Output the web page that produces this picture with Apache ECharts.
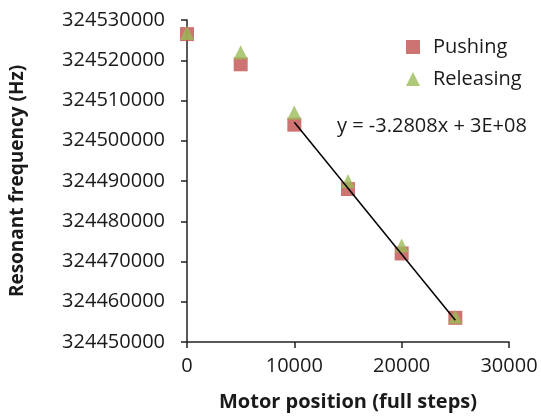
<!doctype html>
<html>
<head>
<meta charset="UTF-8">
<title>Resonant frequency vs motor position</title>
<script src="https://cdn.jsdelivr.net/npm/echarts@6/dist/echarts.min.js"></script>
<style>
  html, body { margin: 0; padding: 0; background: #fff; }
</style>
</head>
<body>
<div id="chart" style="width: 541px; height: 418px;"></div>
<script>
// motor position (full steps)
var positions = [0, 5000, 10000, 15000, 20000, 25000];
// resonant frequency (Hz)
var pushing   = [324526500, 324519000, 324504000, 324488000, 324472000, 324456000];
var releasing = [324526800, 324522000, 324507000, 324490000, 324474000, 324456300];
// linear trendline drawn across the last four points
var trendX = [10000, 25000];
var trendY = [324504600, 324455400];
var trendLabel = 'y = -3.2808x + 3E+08';

var font = '"Open Sans", "Noto Sans", sans-serif';
var ink = '#1a1a1a';

function pairs(xs, ys) {
    return xs.map(function (x, i) { return [x, ys[i]]; });
}

function plain(v) {
    return String(v);
}

var chart = echarts.init(document.getElementById('chart'));

var option = {
    animation: false,
    textStyle: { fontFamily: font, color: ink },
    grid: { left: 181, right: 32, top: 20, bottom: 76 },
    legend: {
        orient: 'vertical',
        left: 401,
        top: 32,
        itemWidth: 14,
        itemHeight: 14,
        itemGap: 12,
        textStyle: { fontFamily: font, fontSize: 20, color: ink, padding: [0, 0, 0, 8] },
        data: ['Pushing', 'Releasing']
    },
    xAxis: {
        type: 'value',
        min: 0,
        max: 30000,
        interval: 10000,
        name: 'Motor position (full steps)',
        nameLocation: 'middle',
        nameGap: 50,
        nameTextStyle: { fontFamily: font, fontSize: 20, fontWeight: 'bold', color: ink },
        axisLine: { lineStyle: { color: '#222', width: 1.5 } },
        axisTick: { show: true, length: 6, lineStyle: { color: '#222', width: 1.5 } },
        axisLabel: { fontSize: 20, color: ink, margin: 14, formatter: plain },
        splitLine: { show: false }
    },
    yAxis: {
        type: 'value',
        min: 324450000,
        max: 324530000,
        interval: 10000,
        scale: true,
        name: 'Resonant frequency (Hz)',
        nameLocation: 'middle',
        nameGap: 160,
        nameRotate: 90,
        nameTextStyle: { fontFamily: font, fontSize: 19, fontWeight: 'bold', color: ink },
        axisLine: { show: true, lineStyle: { color: '#222', width: 1.5 } },
        axisTick: { show: true, length: 6, lineStyle: { color: '#222', width: 1.5 } },
        axisLabel: { fontSize: 20, color: ink, margin: 22, formatter: plain },
        splitLine: { show: false }
    },
    graphic: [{
        type: 'text',
        left: 337,
        top: 116,
        style: { text: trendLabel, font: '20px ' + font, fill: ink }
    }],
    series: [
        {
            name: 'Pushing',
            type: 'scatter',
            symbol: 'rect',
            symbolSize: 14,
            itemStyle: { color: '#C0504D' },
            data: pairs(positions, pushing),
            z: 2
        },
        {
            name: 'Releasing',
            type: 'scatter',
            symbol: 'triangle',
            symbolSize: [14, 14],
            itemStyle: { color: '#9BBB59' },
            data: pairs(positions, releasing),
            z: 3
        },
        {
            name: 'trend',
            type: 'line',
            symbol: 'none',
            lineStyle: { color: '#000', width: 1.5 },
            data: pairs(trendX, trendY),
            z: 4
        }
    ]
};

chart.setOption(option);
</script>
</body>
</html>
